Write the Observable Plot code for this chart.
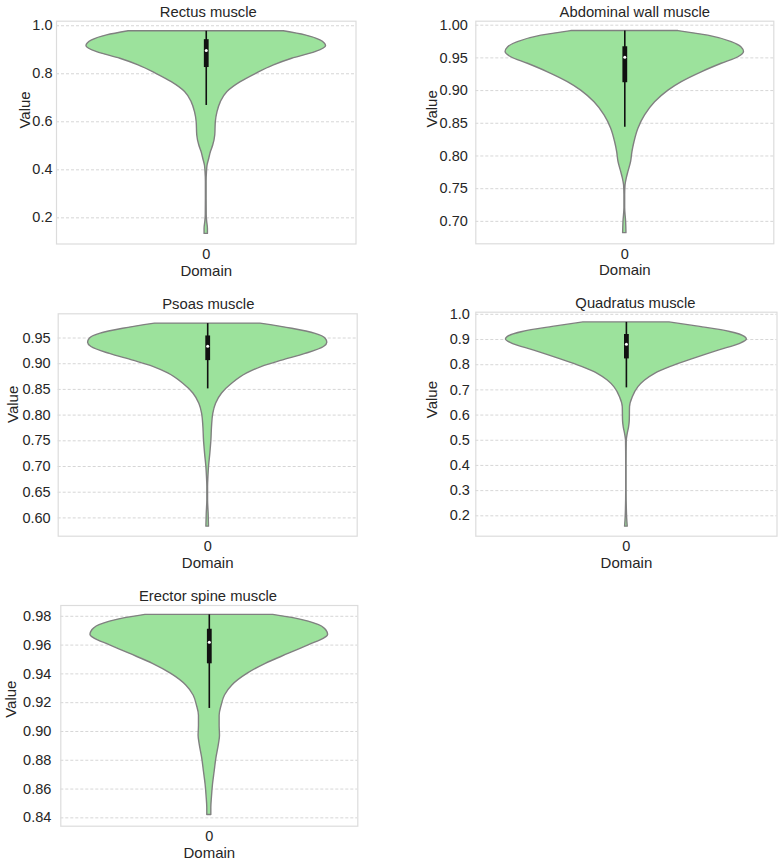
<!DOCTYPE html>
<html>
<head>
<meta charset="utf-8">
<script src="https://cdn.jsdelivr.net/npm/d3@7"></script>
<script src="https://cdn.jsdelivr.net/npm/@observablehq/plot@0.6"></script>
<style>
  html, body { margin: 0; padding: 0; background: #ffffff; }
  #fig { position: relative; width: 782px; height: 866px; overflow: hidden; background: #ffffff; }
  #fig svg { position: absolute; }
</style>
</head>
<body>
<div id="fig"></div>
<script>
// ---- Panel titles ----
const titles = ["Rectus muscle", "Abdominal wall muscle", "Psoas muscle", "Quadratus muscle", "Erector spine muscle"];

// ---- Violin profiles (value level, relative density width) ----
const rectusValue = [0.133, 0.154, 0.182, 0.210, 0.279, 0.349, 0.390, 0.418, 0.446, 0.474, 0.501, 0.543, 0.599, 0.640, 0.682, 0.724, 0.765, 0.799, 0.835, 0.8625, 0.890, 0.915, 0.939, 0.960, 0.977];
const rectusWidth = [0.014, 0.014, 0.008, 0.004, 0.003, 0.003, 0.006, 0.011, 0.025, 0.039, 0.058, 0.075, 0.080, 0.094, 0.122, 0.177, 0.288, 0.413, 0.565, 0.717, 0.911, 1.0, 0.953, 0.828, 0.648];

const abdominalValue = [0.682, 0.699, 0.720, 0.740, 0.755, 0.766, 0.776, 0.791, 0.806, 0.821, 0.842, 0.862, 0.882, 0.900, 0.913, 0.928, 0.941, 0.951, 0.959, 0.966, 0.974, 0.984, 0.991];
const abdominalWidth = [0.014, 0.011, 0.003, 0.003, 0.006, 0.017, 0.031, 0.053, 0.064, 0.081, 0.115, 0.170, 0.254, 0.366, 0.478, 0.645, 0.813, 0.953, 1.0, 0.98, 0.897, 0.70, 0.45];

const psoasValue = [0.583, 0.608, 0.634, 0.660, 0.679, 0.699, 0.725, 0.751, 0.777, 0.803, 0.822, 0.842, 0.861, 0.881, 0.894, 0.906, 0.919, 0.9325, 0.941, 0.9487, 0.958, 0.968, 0.978];
const psoasWidth = [0.011, 0.008, 0.003, 0.003, 0.006, 0.011, 0.022, 0.031, 0.036, 0.047, 0.070, 0.120, 0.204, 0.330, 0.455, 0.623, 0.818, 0.972, 1.0, 0.986, 0.902, 0.707, 0.441];

const quadratusValue = [0.157, 0.193, 0.300, 0.400, 0.498, 0.525, 0.551, 0.578, 0.631, 0.671, 0.711, 0.737, 0.764, 0.790, 0.823, 0.856, 0.883, 0.900, 0.9097, 0.930, 0.950, 0.968];
const quadratusWidth = [0.011, 0.006, 0.0015, 0.0015, 0.003, 0.011, 0.022, 0.028, 0.030, 0.053, 0.100, 0.155, 0.238, 0.363, 0.557, 0.765, 0.945, 1.0, 0.986, 0.861, 0.612, 0.357];

const erectorValue = [0.842, 0.847, 0.854, 0.863, 0.872, 0.881, 0.891, 0.897, 0.904, 0.911, 0.918, 0.925, 0.932, 0.940, 0.947, 0.954, 0.960, 0.9645, 0.967, 0.969, 0.9738, 0.9784, 0.981];
const erectorWidth = [0.017, 0.017, 0.022, 0.031, 0.045, 0.059, 0.081, 0.090, 0.087, 0.087, 0.104, 0.132, 0.194, 0.320, 0.475, 0.671, 0.840, 0.966, 1.0, 0.994, 0.924, 0.728, 0.537];

// ---- Inner box stats: [lower whisker, q1, median, q3, upper whisker] ----
const rectusBox = [0.668, 0.826, 0.897, 0.942, 0.977];
const abdominalBox = [0.844, 0.912, 0.951, 0.967, 0.991];
const psoasBox = [0.851, 0.906, 0.934, 0.954, 0.978];
const quadratusBox = [0.708, 0.823, 0.881, 0.920, 0.968];
const erectorBox = [0.916, 0.947, 0.962, 0.971, 0.981];

// ---- Y tick values ----
const rectusTicks = [0.2, 0.4, 0.6, 0.8, 1.0];
const abdominalTicks = [0.70, 0.75, 0.80, 0.85, 0.90, 0.95, 1.00];
const psoasTicks = [0.60, 0.65, 0.70, 0.75, 0.80, 0.85, 0.90, 0.95];
const quadratusTicks = [0.2, 0.3, 0.4, 0.5, 0.6, 0.7, 0.8, 0.9, 1.0];
const erectorTicks = [0.84, 0.86, 0.88, 0.90, 0.92, 0.94, 0.96, 0.98];

const xCategory = [0];

// ---- Layout (figure pixels) ----
const panels = [
  {title: titles[0], values: rectusValue, widths: rectusWidth, box: rectusBox, ticks: rectusTicks, digits: 1,
   sx: 0, sy: 0, W: 391, H: 290, L: 56, R: 355.5, T: 20.7, B: 243.5, domain: [0.091, 1.019], tdx: 2, vdx: -31.5, vdy: -4, pad: 4},
  {title: titles[1], values: abdominalValue, widths: abdominalWidth, box: abdominalBox, ticks: abdominalTicks, digits: 2,
   sx: 391, sy: 0, W: 391, H: 290, L: 475.3, R: 773.3, T: 20.7, B: 243.3, domain: [0.6657, 1.0061], tdx: 10, vdx: -43.5, vdy: -5, pad: 8},
  {title: titles[2], values: psoasValue, widths: psoasWidth, box: psoasBox, ticks: psoasTicks, digits: 2,
   sx: 0, sy: 290, W: 391, H: 292, L: 57.7, R: 356.7, T: 313.3, B: 535.7, domain: [0.5644, 0.9971], tdx: 0.6, vdx: -44.9, vdy: -2, pad: 7.5},
  {title: titles[3], values: quadratusValue, widths: quadratusWidth, box: quadratusBox, ticks: quadratusTicks, digits: 1,
   sx: 391, sy: 290, W: 391, H: 292, L: 475.3, R: 776.5, T: 311.7, B: 535.7, domain: [0.119, 1.0085], tdx: 9, vdx: -43.5, vdy: -6, pad: 6},
  {title: titles[4], values: erectorValue, widths: erectorWidth, box: erectorBox, ticks: erectorTicks, digits: 2,
   sx: 0, sy: 582, W: 391, H: 284, L: 60.3, R: 357.3, T: 605, B: 825.7, domain: [0.8342, 0.9875], tdx: -1.3, vdx: -49.5, vdy: 2, pad: 9.5}
];

const fig = document.getElementById("fig");
const font = "'Liberation Sans', Arial, Helvetica, sans-serif";
const ink = "#262626";

for (const p of panels) {
  const profile = p.values.map((v, i) => ({v, w: p.widths[i]}));
  const stats = [{lo: p.box[0], q1: p.box[1], med: p.box[2], q3: p.box[3], hi: p.box[4]}];
  const fmt = d3.format(`.${p.digits}f`);
  const svg = Plot.plot({
    width: p.W,
    height: p.H,
    marginLeft: p.L - p.sx,
    marginRight: p.sx + p.W - p.R,
    marginTop: p.T - p.sy,
    marginBottom: p.sy + p.H - p.B,
    x: {domain: [-0.5, 0.5]},
    y: {domain: p.domain},
    style: {fontFamily: font, fontSize: "14.5px", color: ink, background: "transparent", overflow: "visible"},
    marks: [
      Plot.gridY(p.ticks, {stroke: "#cccccc", strokeOpacity: 1, strokeWidth: 0.8, strokeDasharray: "3,2"}),
      Plot.areaX(profile, {
        y: "v",
        x1: d => -0.4 * d.w,
        x2: d => 0.4 * d.w,
        fill: "#9ce29c",
        stroke: "#808080",
        strokeWidth: 1.4,
        curve: "monotone-y"
      }),
      Plot.ruleX(stats, {x: () => 0, y1: "lo", y2: "hi", stroke: "#111111", strokeWidth: 1.6}),
      Plot.ruleX(stats, {x: () => 0, y1: "q1", y2: "q3", stroke: "#111111", strokeWidth: 4.8}),
      Plot.dot(stats, {x: () => 0, y: "med", r: 1.5, fill: "#ffffff", stroke: null}),
      Plot.frame({stroke: "#dcdcdc", strokeWidth: 1.2}),
      Plot.axisY(p.ticks, {tickSize: 0, tickPadding: p.pad, tickFormat: fmt, label: null, fontSize: 14.5, fill: ink}),
      Plot.axisX(xCategory, {tickSize: 0, tickPadding: 4.5, tickFormat: d => String(d), label: null, fontSize: 14.5, fill: ink}),
      Plot.text([p.title], {text: d => d, frameAnchor: "top", lineAnchor: "bottom", dy: -4.5, dx: p.tdx, fontSize: 14.8, fill: ink}),
      Plot.text(["Domain"], {text: d => d, frameAnchor: "bottom", lineAnchor: "bottom", dy: 31.5, fontSize: 15, fill: ink}),
      Plot.text(["Value"], {text: d => d, frameAnchor: "left", lineAnchor: "middle", rotate: -90, dx: p.vdx, dy: p.vdy, fontSize: 15, fill: ink})
    ]
  });
  svg.style.left = p.sx + "px";
  svg.style.top = p.sy + "px";
  svg.style.maxWidth = "none";
  fig.appendChild(svg);
}
</script>
</body>
</html>
